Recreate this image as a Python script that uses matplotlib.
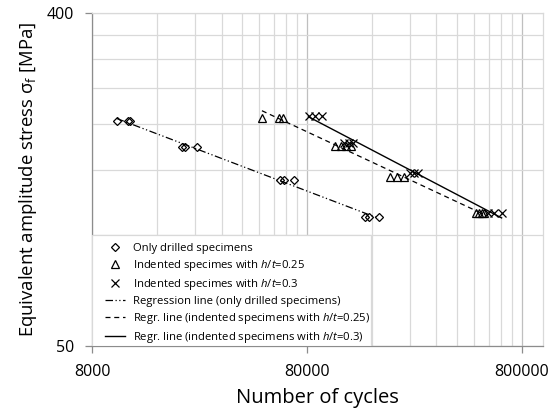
import numpy as np
import matplotlib
matplotlib.use("Agg")
import matplotlib.pyplot as plt
from matplotlib.patches import Rectangle
from matplotlib.ticker import FixedLocator, NullFormatter, FixedFormatter

plt.rcParams['font.family'] = ['Open Sans', 'DejaVu Sans']
plt.rcParams['mathtext.fontset'] = 'custom'
plt.rcParams['mathtext.rm'] = 'Open Sans'
plt.rcParams['mathtext.it'] = 'Open Sans:italic'

# Fatigue test results: cycles to failure and equivalent stress amplitude [MPa]
drilled_cycles = [10400, 11700, 12000, 20900, 21600, 24500,
                  60000, 62200, 69200, 149500, 154800, 172000]
drilled_stress = [204, 204, 204, 173, 173, 173,
                  141, 141, 141, 112, 112, 112]

ind025_cycles = [49300, 58900, 61500, 108300, 115500, 121900, 128600,
                 195400, 210700, 227200, 486600, 502500, 519000, 535500]
ind025_stress = [208, 208, 208, 175, 175, 175, 175,
                 144, 144, 144, 115, 115, 115, 115]

ind03_cycles = [81300, 87400, 93900, 119300, 125800, 131400,
                242200, 252800, 264000, 553500, 590400, 643400]
ind03_stress = [211, 211, 211, 178, 178, 178,
                147, 147, 147, 115, 115, 115]

x_ticks = [8000, 80000, 800000]
y_ticks = [50, 400]


def power_fit(n, s):
    """Power-law trend S = a * N^b fitted in log-log space over the data range."""
    ln, ls = np.log10(n), np.log10(s)
    b, a = np.polyfit(ln, ls, 1)
    nn = np.logspace(ln.min(), ln.max(), 50)
    return nn, 10 ** (a + b * np.log10(nn))


fig = plt.figure(figsize=(5.58, 4.13), dpi=100)
ax = fig.add_axes([0.1654, 0.1622, 0.8072, 0.8056])
ax.set_xscale('log')
ax.set_yscale('log')
ax.set_xlim(8000, 1e6)
ax.set_ylim(50, 400)

# grid: multiples of 8000 along x, 50 MPa steps along y
minor_x = [k * 8000 * 10 ** d for d in range(3) for k in range(2, 10)]
minor_x = [v for v in minor_x if v < 1e6]
ax.xaxis.set_major_locator(FixedLocator(x_ticks))
ax.xaxis.set_major_formatter(FixedFormatter([str(v) for v in x_ticks]))
ax.xaxis.set_minor_locator(FixedLocator(minor_x))
ax.xaxis.set_minor_formatter(NullFormatter())
ax.yaxis.set_major_locator(FixedLocator(y_ticks))
ax.yaxis.set_major_formatter(FixedFormatter([str(v) for v in y_ticks]))
ax.yaxis.set_minor_locator(FixedLocator(list(range(100, 400, 50))))
ax.yaxis.set_minor_formatter(NullFormatter())

ax.grid(True, which='major', axis='x', color='#bfbfbf', lw=0.9)
ax.grid(True, which='minor', axis='x', color='#d9d9d9', lw=0.9)
ax.grid(True, which='minor', axis='y', color='#d9d9d9', lw=0.9)
ax.grid(True, which='major', axis='y', color='#d9d9d9', lw=0.9)
ax.set_axisbelow(True)

ax.tick_params(which='major', direction='out', length=5, width=0.9,
               color='#8c8c8c', labelsize=11.5, pad=8)
ax.tick_params(which='minor', length=0)
for side in ['left', 'bottom']:
    ax.spines[side].set_color('#8c8c8c')
    ax.spines[side].set_linewidth(0.9)
for side in ['top', 'right']:
    ax.spines[side].set_color('#d9d9d9')
    ax.spines[side].set_linewidth(0.9)

mk = dict(linestyle='none', markerfacecolor='none', markeredgecolor='black',
          markeredgewidth=0.9)
ax.plot(drilled_cycles, drilled_stress, marker='D', markersize=4.4,
        label='Only drilled specimens', **mk)
ax.plot(ind025_cycles, ind025_stress, marker='^', markersize=5.5,
        label=r'Indented specimes with $\mathit{h/t}$=0.25', **mk)
ax.plot(ind03_cycles, ind03_stress, marker='x', markersize=5.5,
        label=r'Indented specimes with $\mathit{h/t}$=0.3', **mk)

xs, ys = power_fit(drilled_cycles, drilled_stress)
ax.plot(xs, ys, color='black', lw=0.9, linestyle=(0, (6, 2, 1, 2, 1, 2)),
        label='Regression line (only drilled specimens)')
xs, ys = power_fit(ind025_cycles, ind025_stress)
ax.plot(xs, ys, color='black', lw=0.9, linestyle=(0, (4, 3)),
        label=r'Regr. line (indented specimens with $\mathit{h/t}$=0.25)')
xs, ys = power_fit(ind03_cycles, ind03_stress)
ax.plot(xs, ys, color='black', lw=1.0, linestyle='-',
        label=r'Regr. line (indented specimens with $\mathit{h/t}$=0.3)')

# white legend panel in the lower-left corner of the plot area
ax.add_patch(Rectangle((0, 0), 0.619, 0.334, transform=ax.transAxes,
                       facecolor='white', edgecolor='#d9d9d9', lw=0.9,
                       zorder=4))
leg = ax.legend(loc='upper left', bbox_to_anchor=(0.028, 0.311),
                borderaxespad=0, borderpad=0, fontsize=8.1, frameon=False,
                handlelength=1.75, handletextpad=0.72, labelspacing=0.37)
leg.set_zorder(5)

ax.set_xlabel('Number of cycles', fontsize=14.5, labelpad=6)
ax.set_ylabel(r'Equivalent amplitude stress σ$_\mathregular{f}$ [MPa]',
              fontsize=13.3, labelpad=6)

fig.savefig('out.png', dpi=100)
